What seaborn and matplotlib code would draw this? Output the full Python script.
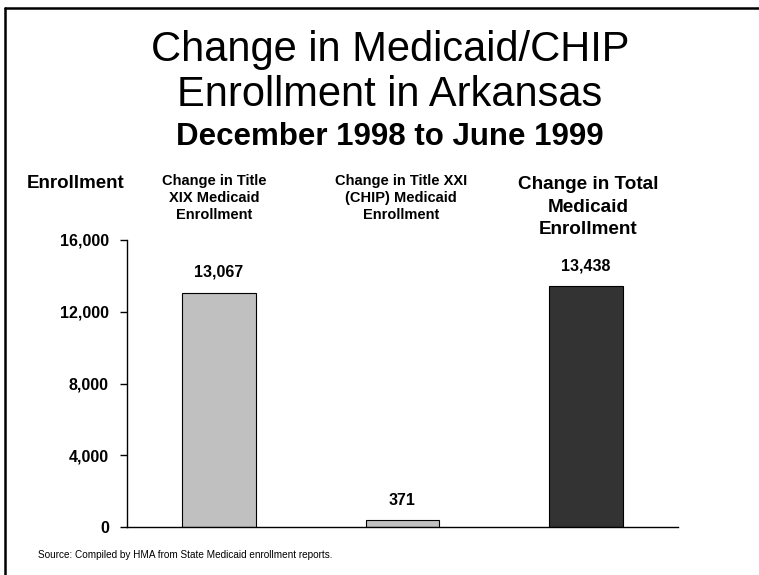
import matplotlib
matplotlib.use("Agg")
import matplotlib.pyplot as plt
from matplotlib.lines import Line2D
import seaborn as sns
import pandas as pd

# Data
categories = ["Title XIX", "Title XXI", "Total"]
headers = [
    "Change in Title\nXIX Medicaid\nEnrollment",
    "Change in Title XXI\n(CHIP) Medicaid\nEnrollment",
    "Change in Total\nMedicaid\nEnrollment",
]
values = [13067, 371, 13438]
bar_colors = ["#C0C0C0", "#C0C0C0", "#333333"]
y_ticks = [0, 4000, 8000, 12000, 16000]

sns.set_theme(style="white")
plt.rcParams["font.family"] = ["Liberation Sans", "DejaVu Sans"]
plt.rcParams["text.color"] = "black"
plt.rcParams["axes.labelcolor"] = "black"
plt.rcParams["ytick.color"] = "black"

df = pd.DataFrame({"category": categories, "value": values})

fig = plt.figure(figsize=(7.59, 5.75), dpi=100)
ax = fig.add_axes([127 / 759, 1 - 527 / 575, (678 - 127) / 759, (527 - 240) / 575])

sns.barplot(data=df, x="category", y="value", hue="category", palette=bar_colors,
            width=0.4, edgecolor="black", linewidth=0.8, legend=False, ax=ax)

ax.set_xlim(-0.5, 2.5)
ax.set_ylim(0, 16000)
ax.set_yticks(y_ticks)
ax.set_yticklabels([f"{t:,}" for t in y_ticks], fontweight="bold", fontsize=11.5,
                   color="black")
ax.set_xticks([])
ax.set_xlabel("")
ax.set_ylabel("")
for s in ["top", "right"]:
    ax.spines[s].set_visible(False)
for s in ["left", "bottom"]:
    ax.spines[s].set_color("black")
    ax.spines[s].set_linewidth(1.0)
ax.tick_params(axis="y", which="major", left=True, length=5, width=1.0,
               color="black", pad=8, labelcolor="black")

# value labels above each bar
for i, v in enumerate(values):
    ax.annotate(f"{v:,}", (i, v), xytext=(0, 14.5), textcoords="offset points",
                ha="center", va="center", fontsize=11.5, fontweight="bold",
                color="black")

# column headers
head_x = [214, 401, 588]
head_y = [198, 198, 207]
head_size = [10.5, 10.5, 13.6]
head_ls = [1.25, 1.25, 1.42]
for hx, hy, hs, ls, txt in zip(head_x, head_y, head_size, head_ls, headers):
    fig.text(hx / 759, 1 - hy / 575, txt, ha="center", va="center",
             fontsize=hs, fontweight="bold", linespacing=ls)

fig.text(76 / 759, 1 - 183 / 575, "Enrollment", ha="center", va="center",
         fontsize=13.5, fontweight="bold")

# titles
fig.text(390 / 759, 1 - 61 / 575, "Change in Medicaid/CHIP", ha="center",
         va="baseline", fontsize=30)
fig.text(390 / 759, 1 - 106 / 575, "Enrollment in Arkansas", ha="center",
         va="baseline", fontsize=30)
fig.text(390 / 759, 1 - 145 / 575, "December 1998 to June 1999", ha="center",
         va="baseline", fontsize=22.5, fontweight="bold")

fig.text(38 / 759, 1 - 555 / 575,
         "Source: Compiled by HMA from State Medicaid enrollment reports.",
         ha="left", va="center", fontsize=7.2)

# page frame (top and left edges)
fig.add_artist(Line2D([5 / 759, 1], [1 - 8 / 575, 1 - 8 / 575],
                      transform=fig.transFigure, color="black", linewidth=1.8))
fig.add_artist(Line2D([5 / 759, 5 / 759], [0, 1 - 8 / 575],
                      transform=fig.transFigure, color="black", linewidth=1.8))

fig.savefig("out.png", dpi=100, facecolor="white")
